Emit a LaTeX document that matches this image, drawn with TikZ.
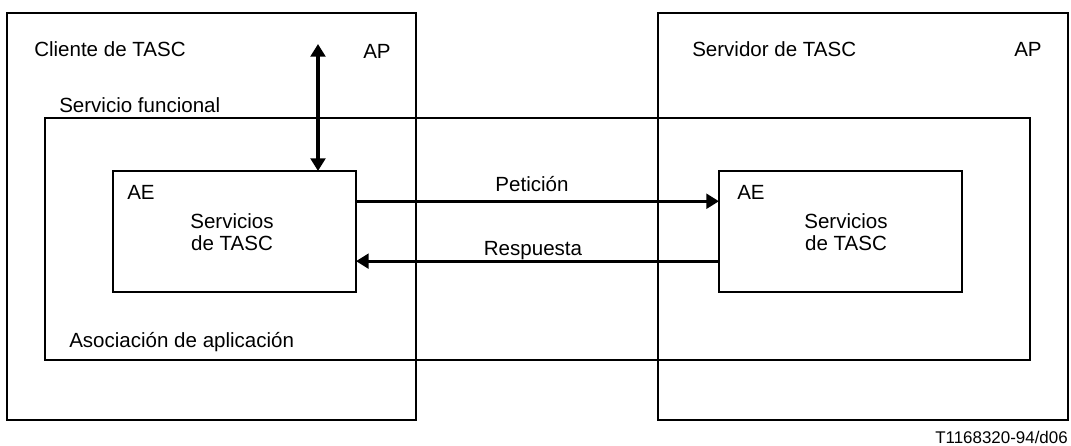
\documentclass[tikz,border=0pt]{standalone}
\usepackage{fontspec}
\setmainfont{Liberation Sans}
\usetikzlibrary{calc}
\usetikzlibrary{arrows.meta}
\tikzset{
 box/.style={draw=black, line width=1.4pt, inner sep=0, outer sep=0},
 lbl/.style={anchor=base west, inner sep=0, font=\fontsize{15.4}{16.5}\selectfont},
 lblc/.style={anchor=base, inner sep=0, font=\fontsize{15.4}{16.5}\selectfont, align=center},
 flow/.style={black, line width=2.4pt, -{Triangle[length=9.5pt,width=11pt]}},
 flowboth/.style={black, line width=2.4pt, {Triangle[length=9.5pt,width=11pt]}-{Triangle[length=9.5pt,width=11pt]}}
}
\begin{document}
\begin{tikzpicture}[x=.75pt, y=-.75pt]
\useasboundingbox (0,0) rectangle (1071,446);
\node[box, minimum width=306.75pt, minimum height=305.25pt] (apcli) at (211.5,216.5) {};
\node[box, minimum width=307.5pt, minimum height=305.25pt] (apser) at (863,216.5) {};
\node[box, minimum width=738.75pt, minimum height=181.5pt] (asoc) at (537.5,239) {};
\node[box, minimum width=182.25pt, minimum height=90.75pt] (aecli) at (234.5,231.5) {};
\node[box, minimum width=182.25pt, minimum height=90.75pt] (aeser) at (840.5,231.5) {};
\node[lbl] (tcli) at (34,56) {Cliente de TASC};
\node[lbl] (tser) at (692,56) {Servidor de TASC};
\node[lbl] (apa) at (363,58) {AP};
\node[lbl] (apb) at (1014,56) {AP};
\node[lbl] (tfun) at (59,112) {Servicio funcional};
\node[lbl] (tasoc) at (69,347) {Asociación de aplicación};
\node[lbl] (aea) at (127,199) {AE};
\node[lbl] (aeb) at (737,199) {AE};
\node[lblc] (sera) at (232,250) {Servicios\\de TASC};
\node[lblc] (serb) at (846,250) {Servicios\\de TASC};
\node[lblc] (pet) at (532,191) {Petición};
\node[lblc] (res) at (533,255) {Respuesta};
\node[anchor=base east, inner sep=0, font=\fontsize{12.7}{14}\selectfont] (ref) at (1068,443) {T1168320-94/d06};
\coordinate (top) at (318,44);
\draw[flowboth] (top) -- (top |- aecli.north);
\draw[flow] ($(aecli.north east)!.25!(aecli.south east)$) -- ($(aeser.north west)!.25!(aeser.south west)$);
\draw[flow] ($(aeser.north west)!.745!(aeser.south west)$) -- ($(aecli.north east)!.745!(aecli.south east)$);
\end{tikzpicture}
\end{document}
